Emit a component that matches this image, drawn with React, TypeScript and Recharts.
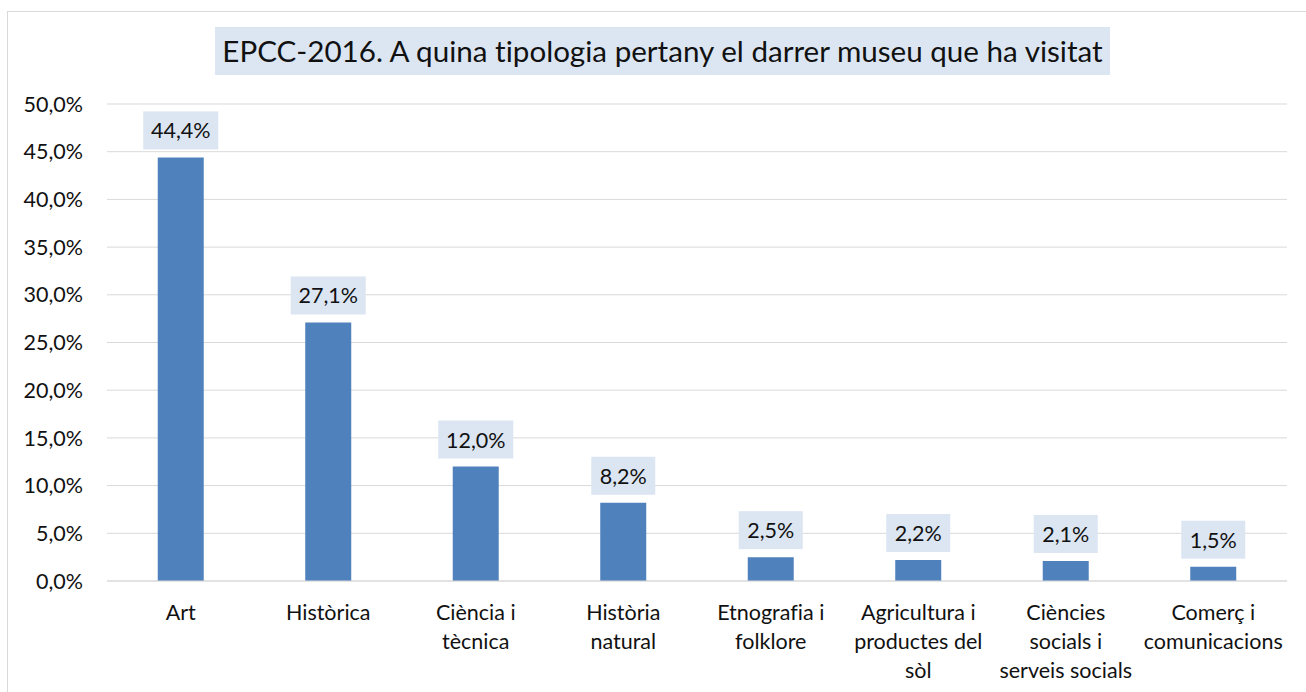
import React from 'react';
import { BarChart, Bar, XAxis, YAxis, CartesianGrid, LabelList } from 'recharts';

const categories = [
  'Art',
  'Històrica',
  'Ciència i\ntècnica',
  'Història\nnatural',
  'Etnografia i\nfolklore',
  'Agricultura i\nproductes del\nsòl',
  'Ciències\nsocials i\nserveis socials',
  'Comerç i\ncomunicacions',
];
const values = [44.4, 27.1, 12.0, 8.2, 2.5, 2.2, 2.1, 1.5];
const yTicks = [0, 5, 10, 15, 20, 25, 30, 35, 40, 45, 50];
const title = 'EPCC-2016. A quina tipologia pertany el darrer museu que ha visitat';

const data = categories.map((c, i) => ({ name: c, value: values[i] }));

const FONT = 'Lato, "Open Sans", sans-serif';
const fmt = (v: number) => v.toFixed(1).replace('.', ',') + '%';
const noLig: React.CSSProperties = { fontVariantLigatures: 'none' };

const XTick = (props: any) => {
  const { x, y, payload } = props;
  const lines = String(payload.value).split('\n');
  return (
    <g>
      {lines.map((l: string, i: number) => (
        <text key={i} x={x} y={y + 31 + i * 29} textAnchor="middle" fill="#111" fontSize={21.5} fontFamily={FONT} style={noLig}>
          {l}
        </text>
      ))}
    </g>
  );
};

const BarLabel = (props: any) => {
  const { x, y, width, value } = props;
  const txt = fmt(value);
  const w = txt.length * 11 + 20;
  const h = 38;
  const cx = x + width / 2;
  const top = y - 8 - h;
  return (
    <g>
      <rect x={cx - w / 2} y={top} width={w} height={h} fill="#DCE6F2" />
      <text x={cx} y={top + h / 2 + 8} textAnchor="middle" fill="#111" fontSize={21.5} fontFamily={FONT}>
        {txt}
      </text>
    </g>
  );
};

export default function App() {
  return (
    <div style={{ position: 'fixed', left: 0, top: 0, width: 1306, height: 692, overflow: 'hidden', background: '#fff', fontFamily: FONT }}>
      <div style={{ position: 'absolute', left: 7, top: 11, width: 1320, height: 720, border: '1px solid #D9D9D9', boxSizing: 'border-box' }} />
      <div
        style={{
          position: 'absolute',
          left: 215,
          top: 27,
          width: 895,
          height: 48,
          background: '#DCE6F2',
          color: '#111',
          fontSize: 29.6,
          lineHeight: '48px',
          textAlign: 'center',
          whiteSpace: 'nowrap',
          fontVariantLigatures: 'none',
        }}
      >
        {title}
      </div>
      <div style={{ position: 'absolute', left: 0, top: 0 }}>
        <BarChart width={1306} height={692} data={data} margin={{ top: 104, right: 19, bottom: 81, left: 27 }} barCategoryGap="34.4%">
          <CartesianGrid vertical={false} stroke="#D9D9D9" />
          <XAxis dataKey="name" tickLine={false} axisLine={{ stroke: '#D9D9D9' }} tick={<XTick />} interval={0} height={30} />
          <YAxis
            width={80}
            domain={[0, 50]}
            ticks={yTicks}
            tickFormatter={fmt}
            axisLine={false}
            tickLine={false}
            tickMargin={18}
            tick={{ fill: '#111', fontSize: 21.5, fontFamily: FONT }}
          />
          <Bar dataKey="value" fill="#4F81BD" isAnimationActive={false}>
            <LabelList dataKey="value" content={<BarLabel />} />
          </Bar>
        </BarChart>
      </div>
    </div>
  );
}
